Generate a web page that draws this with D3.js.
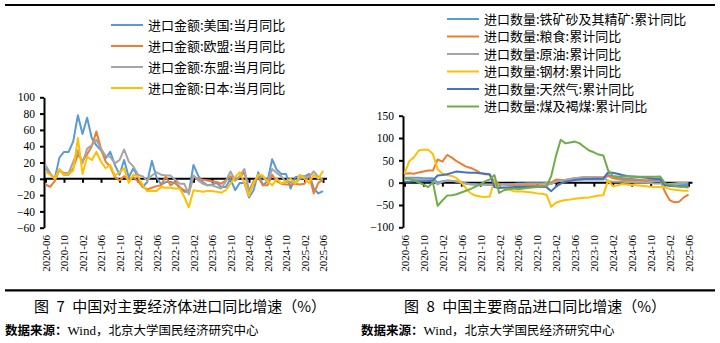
<!DOCTYPE html>
<html><head><meta charset="utf-8">
<script src="https://cdn.jsdelivr.net/npm/d3@7"></script>
<style>body{margin:0;background:#fff} svg{display:block}</style>
</head><body><svg id="c" width="720" height="343"></svg>
<script>
// ---------- DATA ----------
const months = d3.timeMonth.range(new Date(2020,5,1), new Date(2025,6,1)).map(d3.timeFormat("%Y-%m"));
const tickLabels = ["2020-06","2020-10","2021-02","2021-06","2021-10","2022-02","2022-06","2022-10","2023-02","2023-06","2023-10","2024-02","2024-06","2024-10","2025-02","2025-06"];

const leftNames = ["进口金额:美国:当月同比","进口金额:欧盟:当月同比","进口金额:东盟:当月同比","进口金额:日本:当月同比"];
const usImp = [14,6,0,26,33,33,46,78,55,75,50,41,35,25,33,17,5,23,2,13,2,-10,-4,22,2,-7,-4,-4,-5,-10,-16,-16,17,4,-4,-8,-7,-5,-10,-10,0,-14,-5,-5,-23,-14,8,-8,-3,24,11,6,6,-12,2,3,3,6,-12,-18,-15];
const euImp = [-7,-10,-3,11,5,5,13,30,22,30,40,58,37,21,15,2,-2,3,-1,2,-3,-10,-13,-11,-9,-8,3,-8,-4,-11,-14,-16,3,0,-1,-2,-3,-4,-6,-2,3,-2,2,8,-15,-3,2,-8,-8,5,-3,-6,-7,-7,-6,-7,-6,5,-18,-5,-1];
const aseanImp = [17,7,0,11,7,7,21,35,19,37,41,48,37,28,27,19,23,36,21,15,5,3,-2,4,8,5,4,4,-1,-6,-6,-19,4,-2,-6,-8,-8,-10,-12,-3,9,-2,3,12,-15,-7,5,2,-4,12,7,3,-4,-4,-5,0,3,2,9,2,-1];
const japanImp = [9,5,0,12,5,6,10,50,6,27,23,33,21,13,17,4,8,13,-5,5,3,-8,-15,-15,-15,-10,-11,-11,-12,-12,-22,-35,-14,-15,-16,-15,-15,-16,-17,-14,-6,2,8,-5,-21,-5,5,4,-3,-8,0,-6,-3,0,-6,5,0,-5,5,0,10];
const leftTicks = [-60,-40,-20,0,20,40,60,80,100];

const rightNames = ["进口数量:铁矿砂及其精矿:累计同比","进口数量:粮食:累计同比","进口数量:原油:累计同比","进口数量:钢材:累计同比","进口数量:天然气:累计同比","进口数量:煤及褐煤:累计同比"];
const ironOre = [11,11,11,11,10,10,10,0,3,5,4,2,0,-2,-3,-3,-4,-4,-4,-4,-4,-3,-3,-3,-2,-2,-2,-2,-2,-2,-2,-2,3,5,6,7,8,7,7,7,7,7,7,17,14,12,10,9,8,7,6,5,5,5,5,-4,-5,-6,-6,-5,-5];
const grain = [20,21,20,23,25,27,27,52,47,62,56,48,42,36,33,28,22,19,18,2,-3,-4,-6,-7,-7,-6,-6,-6,-7,-7,-7,0,7,6,6,8,10,11,12,12,12,12,12,15,10,8,6,6,6,5,5,5,6,7,8,-20,-39,-44,-43,-33,-27];
const crudeOil = [8,8,7,7,7,6,6,-4,2,4,4,3,2,-2,-4,-5,-5,-5,-5,-5,-4,-4,-4,-3,-3,-3,-2,-2,-2,-2,-1,-3,2,4,6,8,10,11,12,12,11,11,11,4,2,2,2,1,1,0,0,0,-1,-2,-2,-4,-3,-2,-1,-1,0];
const steel = [20,48,57,72,74,74,64,30,20,17,15,10,0,-13,-24,-29,-31,-32,-31,5,-10,-12,-15,-19,-20,-20,-21,-22,-24,-25,-27,-54,-45,-41,-39,-38,-36,-35,-34,-33,-31,-29,-28,5,-8,-6,-3,-4,-5,-6,-7,-8,-9,-10,-10,-10,-14,-16,-17,-18,-18];
const natGas = [2,2,3,3,3,3,5,16,17,19,22,25,24,23,22,22,21,20,19,-10,-12,-11,-11,-10,-10,-10,-10,-10,-10,-10,-10,-19,-9,-2,2,4,6,7,8,8,9,9,9,23,22,20,17,15,14,13,12,11,10,9,8,-6,-7,-8,-8,-9,-9];
const coal = [11,8,5,0,-4,-10,1,-52,-40,-29,-28,-26,-22,-18,-14,-9,-4,3,7,17,-23,-17,-15,-13,-15,-13,-12,-11,-10,-9,-8,15,60,96,88,90,92,88,80,72,68,63,61,28,15,14,14,14,13,13,13,13,13,13,14,-1,-5,-7,-9,-10,-11];
const rightTicks = [-100,-50,0,50,100,150];

const leftColors = ["#5B9BD5","#ED7D31","#A5A5A5","#FFC000"];
const rightColors = ["#5B9BD5","#ED7D31","#A5A5A5","#FFC000","#4472C4","#70AD47"];

// ---------- DRAW ----------
const svg = d3.select("#c");
const cjk = "'Noto Sans CJK SC','Noto Sans',sans-serif";
const serif = "'Liberation Serif','Times New Roman',serif";

svg.append("rect").attr("width",720).attr("height",343).attr("fill","#fff");
svg.append("line").attr("x1",5).attr("x2",715).attr("y1",5).attr("y2",5).attr("stroke","#000").attr("stroke-width",2.2);
svg.append("line").attr("x1",5).attr("x2",715).attr("y1",290.3).attr("y2",290.3).attr("stroke","#000").attr("stroke-width",2.2);

function panel(cfg){
  const g = svg.append("g");
  const x = d3.scaleLinear().domain([0, months.length-1]).range([cfg.x0, cfg.x1]);
  const y = d3.scaleLinear().domain([cfg.ymin, cfg.ymax]).range([cfg.yBot, cfg.yTop]);
  const y0 = y(0);

  const ya = g.append("g").attr("transform",`translate(${cfg.axisX},0)`)
    .call(d3.axisLeft(y).tickValues(cfg.ticks).tickSize(4).tickSizeOuter(0).tickPadding(5).tickFormat(d3.format("d")));
  ya.select(".domain").attr("stroke","#000").attr("stroke-width",2);
  ya.selectAll(".tick line").attr("stroke","#000").attr("stroke-width",2);
  ya.selectAll("text").attr("font-family",serif).attr("font-size",11.5).attr("fill","#000");

  const tickIdx = tickLabels.map(t => months.indexOf(t));
  const xa = g.append("g").attr("transform",`translate(0,${y0})`)
    .call(d3.axisBottom(x).tickValues(tickIdx).tickSize(4).tickFormat(i => months[i]));
  xa.select(".domain").remove();
  xa.selectAll(".tick line").attr("stroke","#000").attr("stroke-width",2);
  xa.selectAll("text").attr("font-family",serif).attr("font-size",11).attr("fill","#000")
    .attr("text-anchor","end").attr("x",0).attr("y",0).attr("dy","0.35em")
    .attr("transform",`translate(0,${235-y0}) rotate(-90)`);
  g.append("line").attr("x1",cfg.axisX).attr("x2",cfg.x1+4).attr("y1",y0).attr("y2",y0)
    .attr("stroke","#000").attr("stroke-width",2);

  const line = d3.line().x((d,i)=>x(i)).y(d=>y(d));
  cfg.series.forEach((s,k)=>{
    g.append("path").datum(s).attr("d",line).attr("fill","none")
      .attr("stroke",cfg.colors[k]).attr("stroke-width",2).attr("stroke-linejoin","round");
  });

  cfg.names.forEach((n,k)=>{
    const ly = cfg.legY0 + k*cfg.legDy;
    g.append("line").attr("x1",cfg.legX).attr("x2",cfg.legX+32).attr("y1",ly).attr("y2",ly)
      .attr("stroke",cfg.colors[k]).attr("stroke-width",2);
    g.append("text").attr("x",cfg.legX+37).attr("y",ly).attr("dy","0.36em")
      .attr("font-family",cjk).attr("font-size",13).attr("fill","#000").text(n);
  });

  g.append("text").attr("x",cfg.capX).attr("y",312).attr("text-anchor","middle")
    .attr("font-family",cjk).attr("font-size",15).attr("fill","#000")
    .style("white-space","pre").text(cfg.caption);
  const src = g.append("text").attr("x",cfg.srcX).attr("y",335).attr("font-family",cjk).attr("font-size",12.5).attr("fill","#000");
  src.append("tspan").attr("font-weight","bold").text("数据来源：");
  src.append("tspan").attr("font-family",serif).attr("font-size",13).text("Wind");
  src.append("tspan").text("，北京大学国民经济研究中心");
}

panel({x0:45.5,x1:323,axisX:44,yTop:97.3,yBot:227.7,ymin:-60,ymax:100,ticks:leftTicks,
  series:[usImp,euImp,aseanImp,japanImp],colors:leftColors,names:leftNames,
  legX:111,legY0:25,legDy:21,caption:"图\u20027\u2002中国对主要经济体进口同比增速（%）",capX:180,srcX:5});
panel({x0:404.5,x1:688.5,axisX:403,yTop:115.7,yBot:227.3,ymin:-100,ymax:150,ticks:rightTicks,
  series:[ironOre,grain,crudeOil,steel,natGas,coal],colors:rightColors,names:rightNames,
  legX:447,legY0:19,legDy:17.5,caption:"图\u20028\u2002中国主要商品进口同比增速（%）",capX:535,srcX:361});
</script></body></html>
